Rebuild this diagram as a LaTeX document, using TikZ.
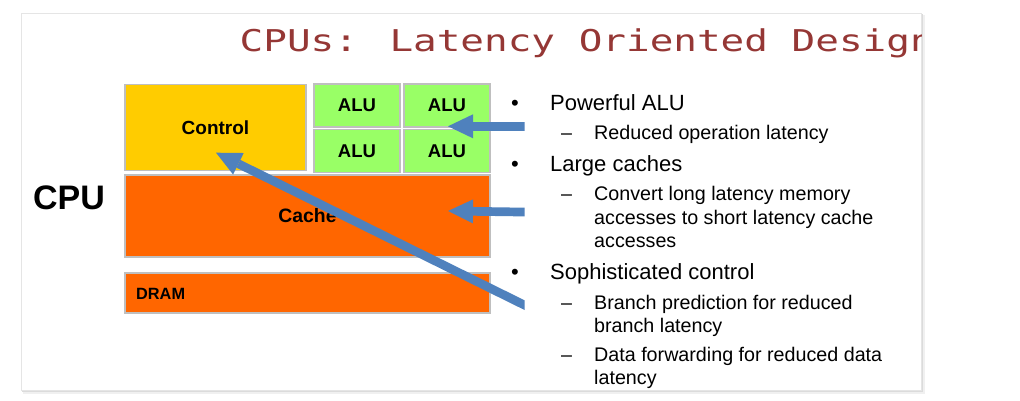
\documentclass[tikz,border=0pt]{standalone}
\usepackage{fontspec}
\setmainfont{Liberation Sans}
\newfontfamily\titlefont[FakeStretch=1.31]{DejaVu Sans Mono}
\usetikzlibrary{arrows.meta}

\definecolor{titlered}{HTML}{953735}
\definecolor{ctrlyellow}{HTML}{FFCC00}
\definecolor{alugreen}{HTML}{99FF66}
\definecolor{cacheorange}{HTML}{FF6600}
\definecolor{arrowblue}{HTML}{4F81BD}
\definecolor{boxedge}{HTML}{BFBFBF}

\tikzset{
  unit/.style={draw=boxedge, line width=1.2pt, inner sep=0pt, outer sep=0pt},
  ctrlbox/.style={unit, fill=ctrlyellow, minimum width=181pt, minimum height=86pt,
    font=\fontsize{19}{22}\selectfont\bfseries},
  alubox/.style={unit, fill=alugreen, minimum width=86pt, minimum height=43pt,
    font=\fontsize{18.5}{22}\selectfont\bfseries},
  cachebox/.style={unit, fill=cacheorange, minimum width=365pt, minimum height=82pt,
    font=\fontsize{19.4}{22}\selectfont\bfseries},
  drambox/.style={unit, fill=cacheorange, minimum width=365pt, minimum height=40pt},
  dramlabel/.style={anchor=west, inner sep=0pt, font=\fontsize{16.3}{19}\selectfont\bfseries},
  cpulabel/.style={anchor=base west, inner sep=0pt, font=\fontsize{34}{40}\selectfont\bfseries},
  titletext/.style={anchor=base west, inner sep=0pt, text=titlered,
    font=\titlefont\fontsize{30}{34}\selectfont},
  mainitem/.style={anchor=base west, inner sep=0pt, font=\fontsize{22}{26}\selectfont},
  subitem/.style={anchor=base west, inner sep=0pt, font=\fontsize{19.7}{23}\selectfont},
  bulletmark/.style={anchor=base west, inner sep=0pt, font=\fontsize{22}{26}\selectfont},
  dashmark/.style={anchor=base west, inner sep=0pt, font=\fontsize{19.7}{23}\selectfont},
  bluearrow/.style={draw=arrowblue, line width=8.7pt,
    -{Triangle[length=25pt, width=24pt, line width=0pt]}},
}

\begin{document}
\begin{tikzpicture}[x=1pt, y=-1pt]
  \useasboundingbox (0,0) rectangle (1020,401);

  % slide page with a soft drop shadow
  \fill[black!6] (23,15) rectangle (924.5,393.5);
  \fill[black!14] (22,14) rectangle (922.8,391.8);
  \filldraw[fill=white, draw=black!10, line width=0.5pt] (21,13) rectangle (921,390);

  % title, cut off at the page edge
  \begin{scope}
    \clip (21,13) rectangle (921,390);
    \node[titletext] (title) at (239.5,51.5) {CPUs: Latency Oriented Design};
  \end{scope}

  % processor blocks
  \node[ctrlbox]  (control) at (215.5,127.5) {Control};
  \node[alubox]   (alu1) at (357,105.5) {ALU};
  \node[alubox]   (alu2) at (447,105.5) {ALU};
  \node[alubox]   (alu3) at (357,151) {ALU};
  \node[alubox]   (alu4) at (447,151) {ALU};
  \node[cachebox] (cache) at (307.5,216) {Cache};
  \node[drambox]  (dram) at (307.5,293) {};
  \node[dramlabel] (dramtext) at (136,294) {DRAM};
  \node[cpulabel] (cpu) at (33,209) {CPU};

  % bullet list
  \node[bulletmark] (m1) at (511,110.5) {•};
  \node[mainitem] (t1) at (550,110.5) {Powerful ALU};
  \node[dashmark] (n1) at (561,140) {–};
  \node[subitem]  (u1) at (594,140) {Reduced operation latency};

  \node[bulletmark] (m2) at (511,171.5) {•};
  \node[mainitem] (t2) at (550,171.5) {Large caches};
  \node[dashmark] (n2) at (561,200.7) {–};
  \node[subitem]  (u2a) at (594,200.7) {Convert long latency memory};
  \node[subitem]  (u2b) at (594,224.3) {accesses to short latency cache};
  \node[subitem]  (u2c) at (594,247.7) {accesses};

  \node[bulletmark] (m3) at (511,279.3) {•};
  \node[mainitem] (t3) at (550,279.3) {Sophisticated control};
  \node[dashmark] (n3) at (561,309.3) {–};
  \node[subitem]  (u3a) at (594,309.3) {Branch prediction for reduced};
  \node[subitem]  (u3b) at (594,332.3) {branch latency};
  \node[dashmark] (n4) at (561,361.7) {–};
  \node[subitem]  (u4a) at (594,361.7) {Data forwarding for reduced data};
  \node[subitem]  (u4b) at (594,384) {latency};

  % pointer arrows from the list into the blocks
  \coordinate (p1) at (535,126.3);
  \coordinate (q1) at (448,126.3);
  \coordinate (p2) at (535,212.2);
  \coordinate (q2) at (448,211);
  \coordinate (p3) at (535,310.3);
  \coordinate (q3) at (216,152.7);
  \begin{scope}
    \clip (0,0) rectangle (524.5,401);
    \draw[bluearrow] (p1) -- (q1);
    \draw[bluearrow] (p2) -- (q2);
    \draw[bluearrow] (p3) -- (q3);
  \end{scope}
\end{tikzpicture}
\end{document}
